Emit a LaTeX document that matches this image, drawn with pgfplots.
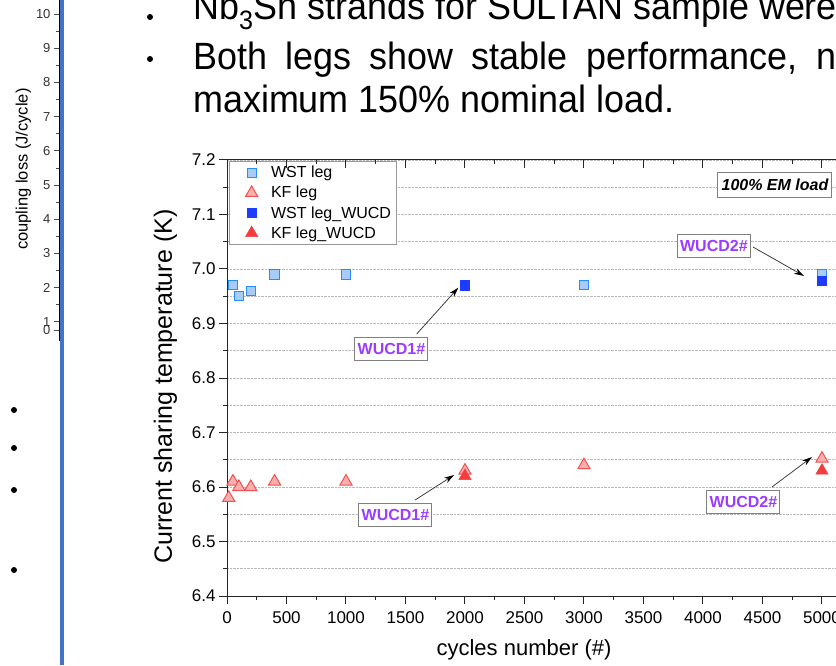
\documentclass[border=0pt]{standalone}
\usepackage{fontspec}
\setmainfont{Liberation Sans}
\newfontfamily\slidefont[FakeStretch=0.945]{Liberation Sans}
\usepackage{pgfplots}
\pgfplotsset{compat=1.18}
\usetikzlibrary{arrows.meta}
\definecolor{wstfill}{RGB}{168,204,248}
\definecolor{wstedge}{RGB}{40,140,255}
\definecolor{wstsolid}{RGB}{30,60,255}
\definecolor{kffill}{RGB}{250,175,175}
\definecolor{kfedge}{RGB}{240,80,80}
\definecolor{kfsolid}{RGB}{245,60,60}
\definecolor{annot}{RGB}{155,60,255}
\definecolor{barblue}{RGB}{68,114,196}
\begin{document}
\begin{tikzpicture}
\clip (0pt,0pt) rectangle (836pt,665pt);
\fill[white] (0pt,0pt) rectangle (836pt,665pt);

% ---- slide text ----
\pgfinterruptboundingbox
\node[anchor=base west, inner sep=0, font=\slidefont\fontsize{38}{38}\selectfont] at (193pt,645pt) {Nb\textsubscript{3}Sn strands for SULTAN sample were};
\endpgfinterruptboundingbox
\node[anchor=base west, inner sep=0, font=\slidefont\fontsize{38}{38}\selectfont] at (193pt,595pt) {\hbox to 643pt{Both\hfill legs\hfill show\hfill stable\hfill performance,\hfill n}};
\node[anchor=base west, inner sep=0, font=\slidefont\fontsize{38}{38}\selectfont] at (193pt,552pt) {maximum 150\% nominal load.};
\foreach \yy in {648,606} \fill[black] (150pt,\yy pt) circle (3pt);
\foreach \yy in {255,217,175,95} \fill[black] (14pt,\yy pt) circle (3pt);

% ---- left (partial) chart ----
\begin{axis}[at={(59pt,324.4pt)}, anchor=south west, scale only axis,
  width=10pt, height=340.3pt, xmin=0, xmax=1, ymin=0.45, ymax=10.4,
  axis y line*=left, axis x line=none,
  ytick={1,2,...,10}, extra y ticks={0.76}, extra y tick labels={0},
  minor y tick num=1, tick align=outside,
  major tick length=5pt, minor tick length=3pt,
  every axis y line/.append style={black!70, line width=0.6pt},
  every tick/.append style={black!70, line width=0.6pt},
  /pgf/number format/assume math mode=true,
  ticklabel style={font=\fontsize{13}{13}\selectfont, text=black!80},
  ylabel={coupling loss (J/cycle)},
  ylabel style={font=\fontsize{16.5}{16.5}\selectfont, at={(ticklabel cs:0.504,-12pt)}},
]
\end{axis}
\fill[barblue] (60pt,0pt) rectangle (64pt,665pt);

% ---- main chart ----
\begin{axis}[at={(227pt,69pt)}, anchor=south west, scale only axis,
  width=609pt, height=436pt,
  xmin=0, xmax=5118, ymin=6.4, ymax=7.2,
  axis x line*=bottom, axis y line*=left,
  xtick={0,500,1000,1500,2000,2500,3000,3500,4000,4500,5000},
  xticklabels={0,500,1000,1500,2000,2500,3000,3500,4000,4500,\makebox[18pt][c]{5000}},
  ytick={6.4,6.5,6.6,6.7,6.8,6.9,7.0,7.1,7.2},
  minor x tick num=1, minor y tick num=1,
  tick align=outside,
  major tick length=8pt, minor tick length=4pt,
  axis line style={black!85, line width=1pt},
  every tick/.append style={black!85, line width=1pt},
  ymajorgrids, yminorgrids,
  major grid style={gray!55, densely dotted, line width=0.7pt},
  minor grid style={gray!55, densely dotted, line width=0.7pt},
  /pgf/number format/assume math mode=true,
  yticklabel style={/pgf/number format/fixed, /pgf/number format/fixed zerofill, /pgf/number format/precision=1},
  ticklabel style={font=\fontsize{17}{17}\selectfont},
  xticklabel shift=4pt,
  xlabel={cycles number (\#)},
  ylabel={Current sharing temperature (K)},
  xlabel style={font=\fontsize{22}{22}\selectfont, at={(ticklabel cs:0.4877,9pt)}},
  ylabel style={font=\fontsize{25}{25}\selectfont, at={(ticklabel cs:0.48,8pt)}},
  legend style={at={(0.003,0.998)}, anchor=north west, draw=gray!80, line width=0.8pt,
    font=\fontsize{16}{18}\selectfont, row sep=3pt, inner sep=3pt},
  legend cell align=left,
  legend image code/.code={\path (-19pt,0pt) (17pt,0pt); \draw[#1] plot coordinates {(0pt,0pt)};},
]
\addplot[only marks, mark=square*, mark size=4.6pt, mark options={fill=wstfill, draw=wstedge, line width=1pt}]
  coordinates {(50,6.97) (100,6.95) (200,6.96) (400,6.99) (1000,6.99) (2000,6.97) (3000,6.97) (5000,6.99)};
\addlegendentry{WST leg}
\addplot[only marks, mark=triangle*, mark size=7pt, mark options={fill=kffill, draw=kfedge, line width=1pt}]
  coordinates {(15,6.58) (50,6.61) (100,6.60) (200,6.60) (400,6.61) (1000,6.61) (2000,6.63) (3000,6.64) (5000,6.652)};
\addlegendentry{KF leg}
\addplot[only marks, mark=square*, mark size=4.6pt, mark options={fill=wstsolid, draw=wstsolid, line width=0.6pt}]
  coordinates {(2000,6.97) (5000,6.978)};
\addlegendentry{WST leg\_WUCD}
\addplot[only marks, mark=triangle*, mark size=7pt, mark options={fill=kfsolid, draw=kfsolid, line width=0.6pt}]
  coordinates {(2000,6.62) (5000,6.63)};
\addlegendentry{KF leg\_WUCD}

% annotations
\tikzset{wucd/.style={draw=gray, line width=1pt, fill=white, text=annot,
  font=\bfseries\fontsize{16}{16}\selectfont, inner sep=0pt, minimum width=73pt, minimum height=23pt},
  arr/.style={draw=gray!50!black, line width=0.8pt, -{Stealth[black, length=10pt, width=6pt]}}}
\node[draw=gray, line width=1pt, fill=white, font=\bfseries\itshape\fontsize{16}{16}\selectfont,
  inner sep=0pt, minimum width=114pt, minimum height=25pt] at (axis cs:4605,7.155) {100\% EM load};
\node[wucd] at (axis cs:1382,6.8525) {WUCD1\#};
\draw[arr] (axis cs:1594,6.8807) -- (axis cs:1944,6.9657);
\node[wucd] at (axis cs:1416,6.5486) {WUCD1\#};
\draw[arr] (axis cs:1580,6.576) -- (axis cs:1908,6.622);
\node[wucd] at (axis cs:4092,7.0413) {WUCD2\#};
\draw[arr] (axis cs:4420,7.0404) -- (axis cs:4849,6.9872);
\node[wucd] at (axis cs:4340,6.5716) {WUCD2\#};
\draw[arr] (axis cs:4580,6.600) -- (axis cs:4916,6.655);
\end{axis}

% top axis line with inward ticks
\begin{axis}[at={(227pt,69pt)}, anchor=south west, scale only axis,
  width=609pt, height=436pt, xmin=0, xmax=5118, ymin=0, ymax=1,
  axis x line*=top, axis y line=none,
  xtick={0,500,1000,1500,2000,2500,3000,3500,4000,4500,5000}, minor x tick num=1,
  xticklabels={}, tick align=inside,
  major tick length=8pt, minor tick length=4pt,
  every tick/.append style={black!85, line width=1pt},
  axis line style={black!85, line width=1pt},
]
\end{axis}
\end{tikzpicture}
\end{document}
